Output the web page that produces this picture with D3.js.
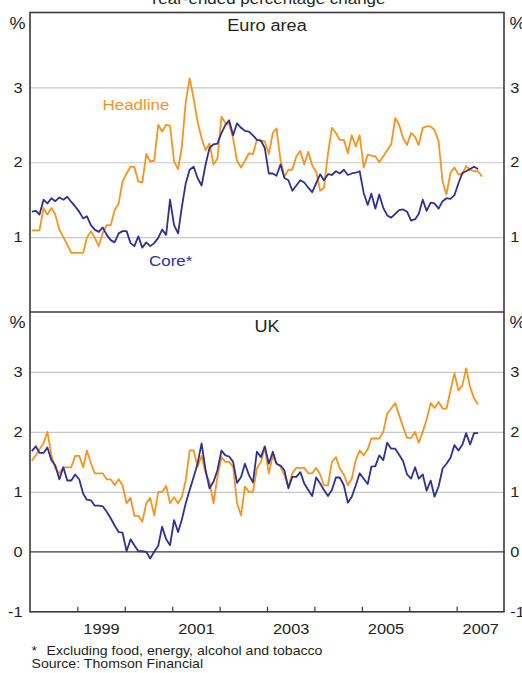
<!DOCTYPE html>
<html>
<head>
<meta charset="utf-8">
<script src="https://cdn.jsdelivr.net/npm/d3@7"></script>
<style>
  html, body { margin: 0; padding: 0; background: #fff; }
  svg { display: block; }
  text { font-family: "Liberation Sans", Arial, sans-serif; fill: #231f20; }
</style>
</head>
<body>
<div id="chart"></div>
<script>
// ---------- DATA (monthly, starting January 1998) ----------
const startYear = 1998;
const euroHeadline = [1.09,1.09,1.09,1.39,1.30,1.39,1.30,1.10,1.00,0.90,
  0.79,0.79,0.79,0.79,0.99,1.08,0.99,0.88,1.05,1.16,
  1.16,1.36,1.45,1.74,1.85,1.94,1.94,1.74,1.73,2.11,
  2.01,2.02,2.50,2.41,2.50,2.49,2.01,1.91,2.19,2.81,
  3.12,2.85,2.54,2.32,2.16,2.25,1.97,2.05,2.61,2.52,
  2.51,2.32,2.02,1.93,2.02,2.12,2.11,2.30,2.29,2.28,
  2.11,2.39,2.45,2.03,1.81,1.90,1.90,2.08,2.15,1.97,
  2.14,1.96,1.87,1.62,1.66,2.12,2.46,2.39,2.30,2.30,
  2.12,2.36,2.21,2.36,1.93,2.10,2.09,2.08,2.00,2.08,
  2.16,2.24,2.59,2.50,2.32,2.23,2.39,2.34,2.23,2.46,
  2.48,2.48,2.43,2.28,1.74,1.57,1.86,1.93,1.84,1.84,
  1.95,1.90,1.88,1.88,1.81];
const euroCore = [1.34,1.35,1.30,1.50,1.45,1.52,1.48,1.53,1.50,1.54,
  1.47,1.41,1.34,1.25,1.28,1.16,1.10,1.07,1.13,1.03,
  0.96,0.93,1.05,1.08,1.08,0.92,0.88,1.01,0.86,0.93,
  0.88,0.92,0.99,1.10,1.03,1.50,1.16,1.05,1.39,1.72,
  1.90,1.94,1.79,1.69,1.97,2.19,2.24,2.25,2.39,2.50,
  2.56,2.36,2.52,2.46,2.42,2.41,2.36,2.30,2.29,2.19,
  1.85,1.85,1.82,1.97,1.79,1.76,1.62,1.69,1.76,1.73,
  1.66,1.60,1.72,1.84,1.76,1.84,1.83,1.88,1.85,1.90,
  1.83,1.85,1.86,1.88,1.59,1.43,1.58,1.38,1.57,1.39,
  1.29,1.26,1.31,1.36,1.37,1.34,1.22,1.24,1.31,1.50,
  1.35,1.46,1.45,1.38,1.48,1.52,1.51,1.56,1.72,1.86,
  1.88,1.91,1.94,1.91];
const ukHeadline = [1.52,1.61,1.71,1.81,2.00,1.61,1.39,1.31,1.41,1.41,
  1.41,1.60,1.60,1.41,1.69,1.48,1.31,1.31,1.31,1.21,
  1.21,1.11,1.21,1.11,0.81,0.90,0.60,0.60,0.50,0.81,
  0.90,0.61,1.00,1.00,1.10,0.81,0.91,0.81,0.91,1.19,
  1.69,1.69,1.42,1.60,1.31,1.17,0.81,1.25,1.58,1.50,
  1.50,1.42,0.81,0.61,1.09,1.00,1.00,1.39,1.50,1.74,
  1.31,1.61,1.47,1.42,1.28,1.08,1.31,1.40,1.40,1.40,
  1.31,1.31,1.40,1.29,1.11,1.11,1.50,1.58,1.39,1.29,
  1.11,1.22,1.53,1.69,1.61,1.71,1.89,1.89,1.89,2.00,
  2.31,2.39,2.48,2.28,2.08,1.90,1.90,2.00,1.82,2.00,
  2.21,2.48,2.40,2.50,2.39,2.39,2.69,2.98,2.69,2.78,
  3.06,2.75,2.56,2.46];
const ukCore = [1.68,1.76,1.65,1.65,1.74,1.53,1.44,1.21,1.41,1.19,
  1.19,1.29,1.21,0.97,0.87,0.86,0.77,0.77,0.76,0.67,
  0.56,0.44,0.33,0.32,0.01,0.21,0.11,0.01,0.01,0.00,
  -0.11,0.00,0.10,0.42,0.21,0.11,0.53,0.33,0.53,0.81,
  1.03,1.25,1.47,1.81,1.36,1.06,1.17,1.36,1.69,1.61,
  1.59,1.50,1.15,1.25,1.47,1.28,1.16,1.67,1.58,1.76,
  1.47,1.67,1.47,1.44,1.36,1.06,1.25,1.25,1.33,1.14,
  1.03,0.93,1.24,1.14,1.03,0.93,1.03,1.24,1.24,1.11,
  0.82,0.92,1.11,1.31,1.22,1.13,1.42,1.43,1.61,1.53,
  1.82,1.72,1.72,1.62,1.51,1.29,1.22,1.41,1.22,1.29,
  1.02,1.19,0.92,1.09,1.39,1.47,1.57,1.78,1.69,1.79,
  1.98,1.79,1.98,1.98];
const yearTicks = [1999,2000,2001,2002,2003,2004,2005,2006,2007];
const yearLabels = [1999,2001,2003,2005,2007];
const euroTicks = [1,2,3];
const ukTicks = [-1,0,1,2,3];
const title = "Year-ended percentage change";
const footnote = "Excluding food, energy, alcohol and tobacco";
const source = "Source: Thomson Financial";

// ---------- LAYOUT ----------
const W = 522, H = 673;
const L = 30, R = 504, T = 12.5, M = 312, B = 611.8;
const SX = 1.13; // horizontal stretch of the text in the reference
const orange = "#f7941e", navy = "#2e3192", grid = "#c4c8cc", frame = "#3a3a3a";

const svg = d3.select("#chart").append("svg").attr("width", W).attr("height", H);

const x = d3.scaleTime().domain([new Date(1998,0,1), new Date(2008,0,1)]).range([L, R]);
const yE = d3.scaleLinear().domain([0,4]).range([M, T]);
const yU = d3.scaleLinear().domain([-1,4]).range([B, M]);

const fmtTick = d => String(d); // plain hyphen for negatives, as in the reference

function series(vals) { return vals.map((v,i) => ({date: new Date(startYear, i, 15), v})); }

function txt(xp, yp, s, size, anchor, color) {
  const t = svg.append("text")
    .attr("transform", `translate(${xp},${yp}) scale(${SX},1)`)
    .attr("text-anchor", anchor || "start")
    .style("font-size", size + "px")
    .text(s);
  if (color) t.style("fill", color);
  return t;
}

function panel(y, ticks, head, core) {
  // gridlines
  svg.append("g").attr("transform", `translate(${L},0)`)
    .call(d3.axisLeft(y).tickValues(ticks.filter(t => t > y.domain()[0] && t !== 0)).tickSize(-(R-L)).tickFormat(""))
    .call(g => g.select(".domain").remove())
    .call(g => g.selectAll("line").attr("stroke", grid).attr("stroke-width", 1.2));
  if (y.domain()[0] < 0) {
    svg.append("line").attr("x1", L).attr("x2", R).attr("y1", y(0)).attr("y2", y(0))
      .attr("stroke", frame).attr("stroke-width", 1.3);
  }
  // tick labels
  const lab = ticks.filter(t => t < y.domain()[1]);
  svg.append("g").attr("transform", `translate(${L},0)`)
    .call(d3.axisLeft(y).tickValues(lab).tickSize(0).tickPadding(6.5).tickFormat(fmtTick))
    .call(g => g.select(".domain").remove())
    .call(g => g.selectAll("text").attr("transform", `scale(${SX},1)`).style("font-size","14.5px")
      .attr("font-family", null).attr("fill", null));
  svg.append("g").attr("transform", `translate(${R},0)`)
    .call(d3.axisRight(y).tickValues(lab).tickSize(0).tickPadding(5.5).tickFormat(fmtTick))
    .call(g => g.select(".domain").remove())
    .call(g => g.selectAll("text").attr("transform", `scale(${SX},1)`).style("font-size","14.5px")
      .attr("font-family", null).attr("fill", null));
  // lines
  const line = d3.line().x(d => x(d.date)).y(d => y(d.v));
  svg.append("path").datum(series(head)).attr("d", line)
    .attr("fill","none").attr("stroke", orange).attr("stroke-width", 1.8).attr("stroke-linejoin","round");
  svg.append("path").datum(series(core)).attr("d", line)
    .attr("fill","none").attr("stroke", navy).attr("stroke-width", 1.8).attr("stroke-linejoin","round");
}

panel(yE, euroTicks, euroHeadline, euroCore);
panel(yU, ukTicks, ukHeadline, ukCore);

// x-axis ticks (year boundaries) and labels (mid-year)
svg.append("g").attr("transform", `translate(0,${B})`)
  .call(d3.axisBottom(x).tickValues(yearTicks.map(yv => new Date(yv,0,1))).tickSize(-5).tickFormat(""))
  .call(g => g.select(".domain").remove())
  .call(g => g.selectAll("line").attr("stroke", frame).attr("stroke-width", 1.2));
svg.append("g").attr("transform", `translate(0,${B})`)
  .call(d3.axisBottom(x).tickValues(yearLabels.map(yv => new Date(yv,6,2))).tickSize(0).tickPadding(12).tickFormat(d3.timeFormat("%Y")))
  .call(g => g.select(".domain").remove())
  .call(g => g.selectAll("text").attr("transform", `scale(${SX},1)`).style("font-size","14.5px")
    .attr("font-family", null).attr("fill", null));

// frame
svg.append("rect").attr("x", L).attr("y", T).attr("width", R-L).attr("height", B-T)
  .attr("fill","none").attr("stroke", frame).attr("stroke-width", 1.6);
svg.append("line").attr("x1", L).attr("x2", R).attr("y1", M).attr("y2", M)
  .attr("stroke", frame).attr("stroke-width", 1.6);

// texts
txt((L+R)/2, 3.5, title, 15, "middle");
txt((L+R)/2, 30.5, "Euro area", 16, "middle");
txt((L+R)/2, 331.5, "UK", 16, "middle");
txt(25.5, 29, "%", 16, "end");
txt(25.5, 327.5, "%", 16, "end");
txt(509.5, 29, "%", 16, "start");
txt(509.5, 327.5, "%", 16, "start");
txt(102.5, 110, "Headline", 15, "start", orange);
txt(149, 265.5, "Core*", 15, "start", navy);
txt(31.5, 655, "*", 12.5, "start");
txt(46.5, 655, footnote, 12.5, "start");
txt(31.5, 668, source, 12.5, "start");
</script>
</body>
</html>
